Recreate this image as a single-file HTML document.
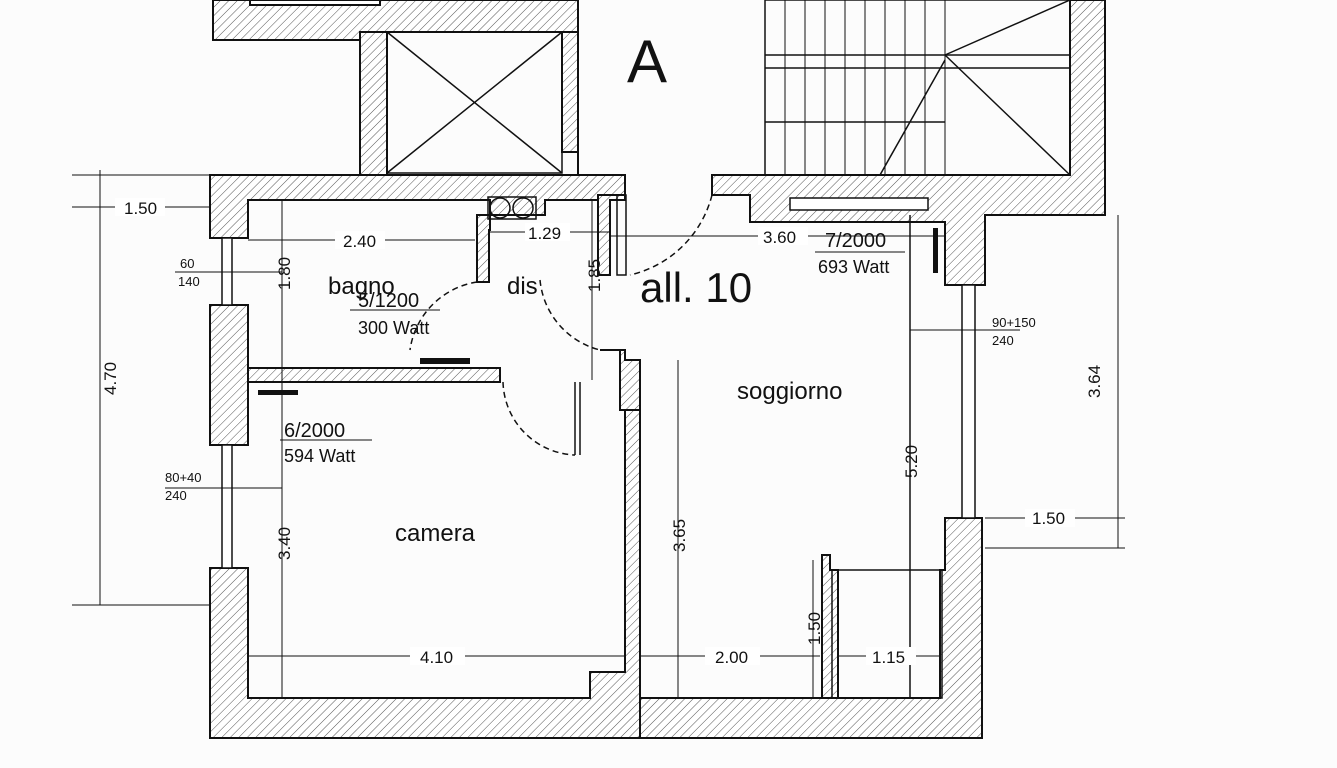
<!DOCTYPE html>
<html><head><meta charset="utf-8"><style>
html,body{margin:0;padding:0;background:#fff}
svg{display:block}
text{font-family:"Liberation Sans",sans-serif;fill:#111}
</style></head><body>
<svg width="1337" height="768" viewBox="0 0 1337 768" xmlns="http://www.w3.org/2000/svg">
<defs>
<pattern id="h" width="6" height="6" patternUnits="userSpaceOnUse" patternTransform="rotate(45)">
<rect width="6" height="6" fill="#fff"/><line x1="0" y1="0" x2="0" y2="6" stroke="#555" stroke-width="1"/>
</pattern>
</defs>
<rect width="1337" height="768" fill="#fcfcfc"/>
<g fill="url(#h)" stroke="#111" stroke-width="2">
<path d="M213 0 H578 V40 H562 V32 H387 V40 H360 V40 H213 Z"/>
<rect x="250" y="0" width="130" height="5" fill="#fff"/>
<rect x="360" y="32" width="27" height="143"/>
<rect x="562" y="32" width="16" height="120"/>
<path d="M210 175 H360 V175 H578 V152 H578 V175 H625 V200 H545 V215 H477 V282 H489 V230 H490 V200 H248 V238 H210 Z"/>
<path d="M210 305 H248 V445 H210 Z"/>
<path d="M210 568 H248 V698 H590 V672 H625 V360 H640 V698 H838 V570 H830 V555 H822 V698 H640 V738 H210 Z"/>
<path d="M248 368 H500 V382 H248 Z"/>
<path d="M945 518 H982 V738 H640 V698 H940 V570 H945 Z"/>
<path d="M712 175 H1070 V0 H1105 V215 H985 V285 H945 V222 H750 V195 H712 Z"/>
<path d="M600 350 H620 V410 H640 V360 H625 V350 Z"/>
<path d="M598 195 H625 V200 H610 V275 H598 Z"/>
</g>
<g stroke="#111" stroke-width="1.5" fill="none">
<rect x="387" y="32" width="175" height="141"/>
<line x1="387" y1="32" x2="562" y2="173"/><line x1="562" y1="32" x2="387" y2="173"/>
<rect x="765" y="0" width="305" height="175"/>
<line x1="765" y1="55" x2="1070" y2="55"/><line x1="765" y1="68" x2="1070" y2="68"/>
<line x1="945" y1="55" x2="1070" y2="175"/><line x1="1070" y1="0" x2="945" y2="55"/>
<line x1="880" y1="175" x2="945" y2="60"/>
<line x1="765" y1="122" x2="945" y2="122"/>
<g stroke-width="1">
<line x1="785" y1="0" x2="785" y2="175"/><line x1="805" y1="0" x2="805" y2="175"/><line x1="825" y1="0" x2="825" y2="175"/><line x1="845" y1="0" x2="845" y2="175"/><line x1="865" y1="0" x2="865" y2="175"/><line x1="885" y1="0" x2="885" y2="175"/><line x1="905" y1="0" x2="905" y2="175"/><line x1="925" y1="0" x2="925" y2="175"/><line x1="945" y1="0" x2="945" y2="175"/>
</g>
<rect x="790" y="198" width="138" height="12" fill="#fff"/>
<rect x="962" y="285" width="13" height="233" fill="#fff"/>
<rect x="222" y="238" width="10" height="67" fill="#fff"/>
<rect x="222" y="445" width="10" height="123" fill="#fff"/>
<path d="M712 195 A110 110 0 0 1 630 275" stroke-dasharray="6 4"/>
<path d="M477 282 A80 80 0 0 0 410 350" stroke-dasharray="6 4"/>
<path d="M540 280 A80 80 0 0 0 600 350" stroke-dasharray="6 4"/>
<path d="M503 382 A75 75 0 0 0 575 455" stroke-dasharray="6 4"/>
<line x1="575" y1="382" x2="575" y2="455"/><line x1="580" y1="382" x2="580" y2="455"/>
<rect x="617" y="195" width="9" height="80"/>
<rect x="488" y="197" width="48" height="22"/>
<circle cx="500" cy="208" r="10"/><circle cx="523" cy="208" r="10"/>
<rect x="832" y="570" width="110" height="128"/>
<line x1="910" y1="215" x2="910" y2="698"/>
</g>
<g fill="#111">
<rect x="420" y="358" width="50" height="6"/><rect x="258" y="390" width="40" height="5"/><rect x="933" y="228" width="5" height="45"/>
</g>
<g stroke="#111" stroke-width="1" fill="none">
<line x1="100" y1="170" x2="100" y2="605"/><line x1="72" y1="175" x2="210" y2="175"/><line x1="72" y1="605" x2="210" y2="605"/>
<line x1="72" y1="207" x2="210" y2="207"/>
<line x1="1118" y1="215" x2="1118" y2="548"/><line x1="985" y1="518" x2="1125" y2="518"/><line x1="985" y1="548" x2="1125" y2="548"/>
<line x1="248" y1="240" x2="475" y2="240"/><line x1="282" y1="200" x2="282" y2="698"/>
<line x1="490" y1="232" x2="610" y2="232"/><line x1="610" y1="236" x2="945" y2="236"/>
<line x1="592" y1="200" x2="592" y2="380"/>
<line x1="248" y1="656" x2="625" y2="656"/><line x1="640" y1="656" x2="820" y2="656"/><line x1="838" y1="656" x2="940" y2="656"/>
<line x1="678" y1="360" x2="678" y2="698"/><line x1="813" y1="560" x2="813" y2="698"/>
<line x1="910" y1="330" x2="1020" y2="330"/><line x1="175" y1="272" x2="282" y2="272"/><line x1="165" y1="488" x2="282" y2="488"/>
<line x1="350" y1="310" x2="440" y2="310"/><line x1="280" y1="440" x2="372" y2="440"/><line x1="815" y1="252" x2="905" y2="252"/>
</g>
<g font-size="17">
<rect x="115" y="198" width="50" height="18" fill="#fff"/><text x="124" y="214">1.50</text>
<rect x="335" y="231" width="50" height="18" fill="#fff"/><text x="343" y="247">2.40</text>
<rect x="525" y="223" width="45" height="18" fill="#fff"/><text x="528" y="239">1.29</text>
<rect x="758" y="227" width="50" height="18" fill="#fff"/><text x="763" y="243">3.60</text>
<rect x="410" y="647" width="55" height="18" fill="#fff"/><text x="420" y="663">4.10</text>
<rect x="705" y="647" width="55" height="18" fill="#fff"/><text x="715" y="663">2.00</text>
<rect x="866" y="647" width="50" height="18" fill="#fff"/><text x="872" y="663">1.15</text>
<rect x="1025" y="509" width="50" height="18" fill="#fff"/><text x="1032" y="524">1.50</text>
<text transform="translate(116,395) rotate(-90)">4.70</text>
<text transform="translate(290,290) rotate(-90)">1.80</text>
<text transform="translate(290,560) rotate(-90)">3.40</text>
<text transform="translate(600,292) rotate(-90)">1.85</text>
<text transform="translate(685,552) rotate(-90)">3.65</text>
<text transform="translate(820,645) rotate(-90)">1.50</text>
<text transform="translate(917,478) rotate(-90)">5.20</text>
<text transform="translate(1100,398) rotate(-90)">3.64</text>
</g>
<g font-size="13">
<text x="180" y="268">60</text><text x="178" y="286">140</text>
<text x="165" y="482">80+40</text><text x="165" y="500">240</text>
<text x="992" y="327">90+150</text><text x="992" y="345">240</text>
</g>
<g fill="#333">
<text x="358" y="307" font-size="20">5/1200</text><text x="358" y="334" font-size="18">300 Watt</text>
<text x="284" y="437" font-size="20">6/2000</text><text x="284" y="462" font-size="18">594 Watt</text>
<text x="825" y="247" font-size="20">7/2000</text><text x="818" y="273" font-size="18">693 Watt</text>
</g>
<g font-size="24">
<text x="328" y="294">bagno</text><text x="507" y="294">dis</text>
<text x="737" y="399">soggiorno</text><text x="395" y="541">camera</text>
</g>
<text x="640" y="302" font-size="42">all. 10</text>
<text x="627" y="82" font-size="60">A</text>
</svg>
</body></html>
